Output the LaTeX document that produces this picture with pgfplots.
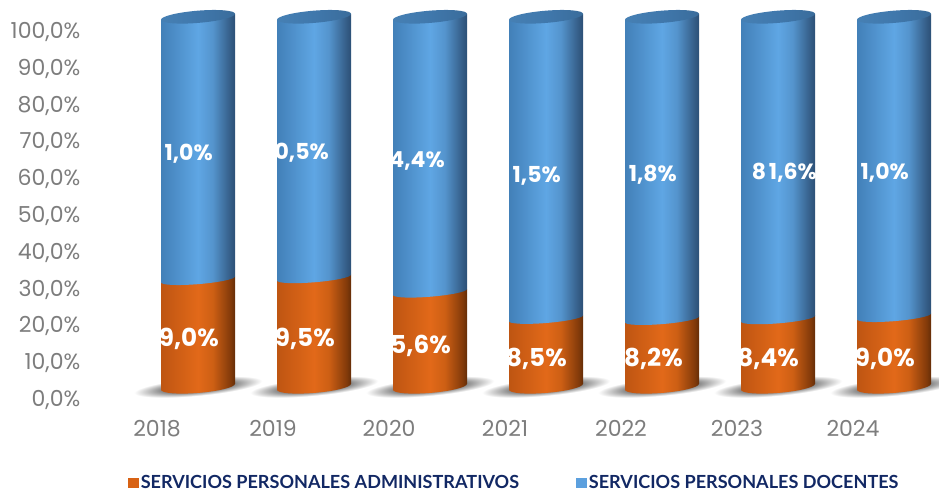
\documentclass[border=0pt]{standalone}
\usepackage{fontspec}
\setmainfont{Poppins}
\newfontfamily\legfont{Lato}
\usepackage{pgfplots}
\usepackage{pgfplotstable}
\pgfplotsset{compat=1.18}
\definecolor{tickgray}{RGB}{125,125,125}
\definecolor{legnavy}{RGB}{18,40,100}
\definecolor{legor}{RGB}{216,98,20}
\definecolor{legbl}{RGB}{92,160,222}
\definecolor{oA}{RGB}{190,85,18}\definecolor{oB}{RGB}{226,105,25}\definecolor{oC}{RGB}{205,95,20}\definecolor{oD}{RGB}{130,58,10}\definecolor{oE}{RGB}{100,45,8}
\definecolor{bA}{RGB}{66,128,184}\definecolor{bB}{RGB}{95,166,228}\definecolor{bC}{RGB}{84,148,205}\definecolor{bD}{RGB}{52,92,134}\definecolor{bE}{RGB}{44,80,118}
\definecolor{tA}{RGB}{70,128,180}\definecolor{tB}{RGB}{64,120,172}\definecolor{tC}{RGB}{58,108,155}
\definecolor{sA}{RGB}{115,115,115}\definecolor{sB}{RGB}{140,140,140}
\pgfdeclarehorizontalshading{orangeCyl}{100bp}{color(0bp)=(oA); color(25bp)=(oA); color(50bp)=(oB); color(60bp)=(oC); color(72bp)=(oD); color(75bp)=(oE); color(100bp)=(oE)}
\pgfdeclarehorizontalshading{blueCyl}{100bp}{color(0bp)=(bA); color(25bp)=(bA); color(50bp)=(bB); color(60bp)=(bC); color(72bp)=(bD); color(75bp)=(bE); color(100bp)=(bE)}
\pgfdeclarehorizontalshading{topCyl}{100bp}{color(0bp)=(tA); color(25bp)=(tA); color(50bp)=(tB); color(75bp)=(tC); color(100bp)=(tC)}
\pgfdeclareradialshading{shadowR}{\pgfpointorigin}{color(0bp)=(sA); color(28bp)=(sB); color(48bp)=(white); color(50bp)=(white)}
\newcommand\cylface[2]{\pgftransformcm{1}{0.08}{0}{1}{\pgfpointorigin}\pgfpathellipse{\pgfpointorigin}{\pgfqpoint{27.75pt}{0pt}}{\pgfqpoint{0pt}{#2}}\pgfshadepath{#1}{0}\pgfusepath{discard}}
\pgfdeclareplotmark{cylbotO}{\cylface{orangeCyl}{4.6pt}}
\pgfdeclareplotmark{cylbotB}{\cylface{blueCyl}{3.5pt}}
\pgfdeclareplotmark{cyltop}{\cylface{topCyl}{4.6pt}}
\pgfdeclareplotmark{cylshadow}{\begin{pgfscope}\pgftransformrotate{5.4}\pgftransformxscale{1.0}\pgftransformyscale{0.14}\pgflowlevelsynccm\pgfuseshading{shadowR}\end{pgfscope}}
\pgfplotstableread{
i year adm doc
0 2018 29.0 71.0
1 2019 29.5 70.5
2 2020 25.6 74.4
3 2021 18.5 81.5
4 2022 18.2 81.8
5 2023 18.4 81.6
6 2024 19.0 81.0
}\datatable
\pgfplotsset{
  baraxis/.style={
    at={(0pt,78.9pt)},anchor=south west,scale only axis,
    width=704.25pt,height=277.5pt,
    xmin=-1.70690,xmax=6.38793,ymin=0,ymax=100,
    hide axis,clip=false},
}
\newcommand\lk[2]{#1\kern2.2pt #2\%}
\begin{document}
\begin{tikzpicture}
\path[use as bounding box] (0pt,0pt) rectangle (704.25pt,369pt);
% ticks and legend
\begin{axis}[
  at={(63.75pt,70.5pt)},anchor=south west,scale only axis,
  width=640.5pt,height=276pt,
  xmin=-0.6207,xmax=6.7414,ymin=0,ymax=100,clip=false,
  axis line style={draw=none},tick style={draw=none},
  xtick={0,...,6},xticklabels={2018,2019,2020,2021,2022,2023,2024},
  ytick={0,10,...,100},
  yticklabels={{0,0\%},{10,0\%},{20,0\%},{30,0\%},{40,0\%},{50,0\%},{60,0\%},{70,0\%},{80,0\%},{90,0\%},{100,0\%}},
  xticklabel style={font=\fontsize{16.5pt}{18pt}\selectfont,text=tickgray,yshift=-13pt},
  yticklabel style={font=\fontsize{16.5pt}{18pt}\selectfont,text=tickgray,xshift=0pt,yshift=-1.5pt},
  legend style={at={(0.0503,-0.2302)},anchor=west,draw=none,fill=none,inner sep=0pt,
    legend columns=2,font=\legfont\bfseries\fontsize{13.55pt}{15pt}\selectfont,text=legnavy,
    /tikz/every even column/.append style={column sep=41pt}},
  legend cell align=left,
]
\addlegendimage{legend image code/.code={\fill[legor] (-3pt,-3.5pt) rectangle (4pt,3.5pt);}}
\addlegendentry{SERVICIOS PERSONALES ADMINISTRATIVOS}
\addlegendimage{legend image code/.code={\fill[legbl] (-1.5pt,-3.5pt) rectangle (5.5pt,3.5pt);}}
\addlegendentry{SERVICIOS PERSONALES DOCENTES}
\end{axis}
% shadows and bottoms
\begin{axis}[baraxis]
\addplot[only marks,mark=cylshadow] table[x=i,y expr=0] {\datatable};
\addplot[only marks,mark=cylbotO] table[x=i,y expr=0] {\datatable};
\end{axis}
% stacked bars, each sheared around its own centre
\foreach \k in {0,...,6}{
\begin{scope}[yshift={-0.06*(198+116*\k)*1pt},yslant=0.08]
\begin{axis}[baraxis,ybar stacked,bar width=55.5pt]
\addplot[draw=none,shading=orangeCyl,x filter/.expression={\coordindex==\k ? x : nan}] table[x=i,y=adm] {\datatable};
\addplot[draw=none,shading=blueCyl,x filter/.expression={\coordindex==\k ? x : nan}] table[x=i,y=doc] {\datatable};
\end{axis}
\end{scope}
}
% junction and top faces
\begin{axis}[baraxis]
\addplot[only marks,mark=cylbotB] table[x=i,y=adm] {\datatable};
\addplot[only marks,mark=cyltop] table[x=i,y expr={\thisrow{adm}+\thisrow{doc}}] {\datatable};
\end{axis}
% data labels
\tikzset{lab/.style={text=white,font=\bfseries\fontsize{16.5pt}{18pt}\selectfont,inner sep=0pt,anchor=east},
         labo/.style={text=white,font=\bfseries\fontsize{18.5pt}{20pt}\selectfont,inner sep=0pt,anchor=east}}
\node[lab] at (159.75pt,253.5pt) {\lk{7}{1,0}};
\node[lab] at (246.75pt,254.25pt) {\lk{7}{0,5}};
\node[lab] at (333.75pt,248.25pt) {\lk{7}{4,4}};
\node[lab] at (420.75pt,237pt) {\lk{8}{1,5}};
\node[lab] at (507.75pt,237.75pt) {\lk{8}{1,8}};
\node[lab] at (612.75pt,239.25pt) {\lk{8}{1,6}};
\node[lab] at (681.75pt,239.25pt) {\lk{8}{1,0}};
\node[labo] at (164.25pt,114.75pt) {\lk{2}{9,0}};
\node[labo] at (251.25pt,114.75pt) {\lk{2}{9,5}};
\node[labo] at (338.25pt,109.5pt) {\lk{2}{5,6}};
\node[labo] at (425.25pt,99.75pt) {\lk{1}{8,5}};
\node[labo] at (512.25pt,99.75pt) {\lk{1}{8,2}};
\node[labo] at (599.25pt,99.75pt) {\lk{1}{8,4}};
\node[labo] at (686.25pt,99.75pt) {\lk{1}{9,0}};
\end{tikzpicture}
\end{document}
